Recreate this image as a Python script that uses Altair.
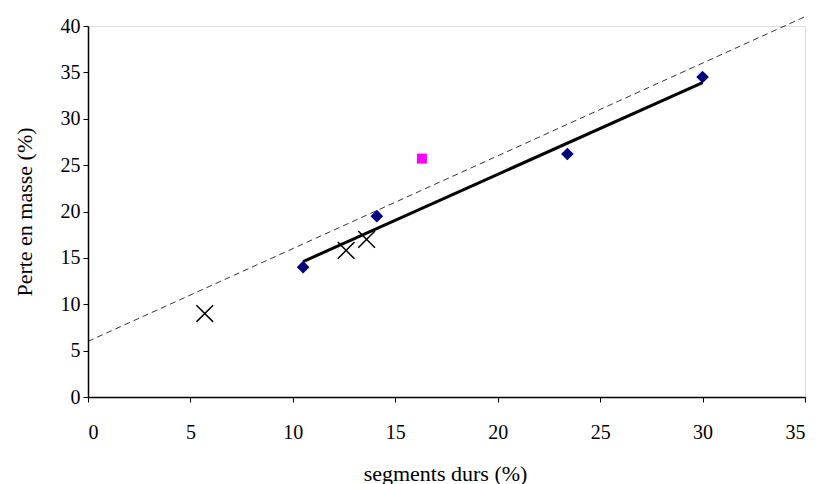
import altair as alt
import pandas as pd

# data
diam_x = [10.5, 14.1, 23.4, 30.0]
diam_y = [14.0, 19.5, 26.2, 34.5]
sq_x = [16.3]
sq_y = [25.7]
cross_x = [5.7, 12.6, 13.6]
cross_y = [9.0, 15.8, 17.0]
fit_x = [10.5, 30.0]
fit_y = [14.6, 33.9]
ref_x = [0.0, 35.0]
ref_y = [6.0, 41.0]

FONT = "Liberation Serif"

xs = alt.Scale(domain=[0, 35], nice=False, zero=False)
ys = alt.Scale(domain=[0, 40], nice=False, zero=False)

xax = alt.Axis(values=list(range(0, 36, 5)), grid=False, title="segments durs (%)",
               labelFont=FONT, labelFontSize=20, titleFont=FONT, titleFontSize=22,
               titleFontWeight="normal", labelColor="black", titleColor="black",
               domainColor="black", tickColor="black", tickSize=5, labelPadding=20,
               titleBaseline="alphabetic", titleY=83, titleX=357, titleAlign="center",
               domainWidth=1.5)
yax = alt.Axis(values=list(range(0, 41, 5)), grid=False, title="Perte en masse (%)",
               labelFont=FONT, labelFontSize=20, titleFont=FONT, titleFontSize=22,
               titleFontWeight="normal", labelColor="black", titleColor="black",
               domainColor="black", tickColor="black", tickSize=5, labelPadding=3,
               titleBaseline="alphabetic", titleX=-57, titleY=185.5, titleAlign="center",
               titleAngle=270, domainWidth=1.5)

d_df = pd.DataFrame({"x": diam_x, "y": diam_y})
s_df = pd.DataFrame({"x": sq_x, "y": sq_y})
c_df = pd.DataFrame({"x": cross_x, "y": cross_y})
f_df = pd.DataFrame({"x": fit_x, "y": fit_y})
r_df = pd.DataFrame({"x": ref_x, "y": ref_y})

ref = alt.Chart(r_df).mark_line(color="black", strokeWidth=0.8, strokeDash=[6, 4], clip=False).encode(
    x=alt.X("x:Q", scale=xs, axis=xax), y=alt.Y("y:Q", scale=ys, axis=yax))
fit = alt.Chart(f_df).mark_line(color="black", strokeWidth=3).encode(
    x=alt.X("x:Q", scale=xs), y=alt.Y("y:Q", scale=ys))
diam = alt.Chart(d_df).mark_point(shape="diamond", filled=True, color="#000080", size=160, opacity=1).encode(
    x=alt.X("x:Q", scale=xs), y=alt.Y("y:Q", scale=ys))
sq = alt.Chart(s_df).mark_point(shape="square", filled=True, color="#FF00FF", size=100, opacity=1).encode(
    x=alt.X("x:Q", scale=xs), y=alt.Y("y:Q", scale=ys))
cr = alt.Chart(c_df).mark_point(shape="M-1,-1L1,1M-1,1L1,-1", filled=False, color="black",
                                size=280, strokeWidth=1.5, opacity=1).encode(
    x=alt.X("x:Q", scale=xs), y=alt.Y("y:Q", scale=ys))

chart = alt.layer(ref, fit, diam, sq, cr).properties(
    width=717, height=371,
    autosize=alt.AutoSizeParams(type="none"),
    padding={"left": 80, "top": 18, "right": 2, "bottom": 88},
).configure_view(stroke="black", strokeWidth=1.5).configure(background="white")

chart.save("out.html", embed_options={"renderer": "svg", "actions": False})
